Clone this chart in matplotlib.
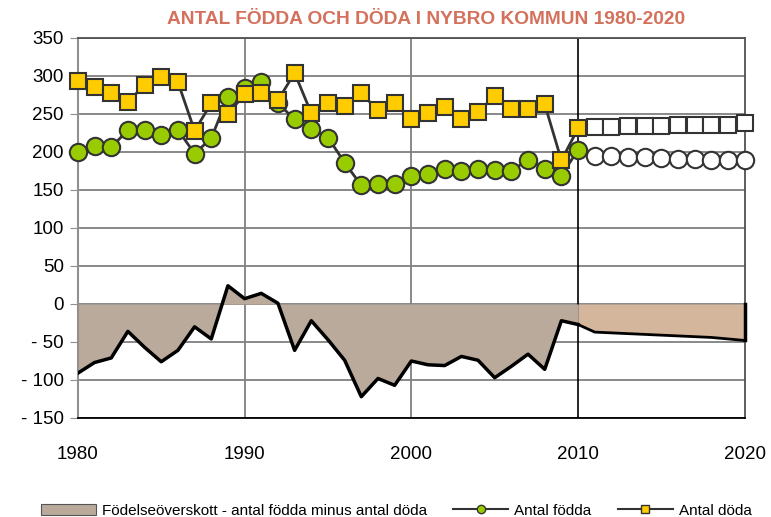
import matplotlib
matplotlib.use('Agg')
import matplotlib.pyplot as plt
from matplotlib.patches import Patch
from matplotlib.lines import Line2D

# utfall 1980-2010
years = list(range(1980, 2011))
fodda = [200, 208, 206, 229, 229, 223, 229, 198, 218, 273,
         284, 292, 264, 243, 230, 219, 186, 156, 158, 158,
         168, 171, 178, 175, 178, 176, 175, 190, 178, 169,
         203]
doda = [293, 285, 277, 266, 288, 299, 292, 228, 264, 250,
        276, 278, 268, 304, 251, 265, 261, 277, 255, 265,
        243, 251, 259, 244, 252, 274, 256, 256, 263, 189,
        231]
overskott = [-91, -77, -71, -36, -57, -76, -61, -30, -46, 24,
             7, 14, 1, -61, -22, -47, -74, -122, -98, -107,
             -75, -80, -81, -69, -74, -97, -82, -66, -86, -22,
             -27]

# prognos 2011-2020
prog_years = list(range(2011, 2021))
prog_fodda = [195, 195, 194, 193, 192, 191, 191, 190, 189, 189]
prog_doda = [233, 233, 234, 234, 234, 235, 235, 235, 236, 238]
prog_ar_area = list(range(2010, 2021))
prog_overskott = [-27, -37, -38, -39, -40, -41, -42, -43, -44, -46, -48]

yticks = [350, 300, 250, 200, 150, 100, 50, 0, -50, -100, -150]
yticklabels = ['350', '300', '250', '200', '150', '100', '50', '0', '- 50', '- 100', '- 150']
xticks = [1980, 1990, 2000, 2010, 2020]

titel = 'ANTAL FÖDDA OCH DÖDA I NYBRO KOMMUN 1980-2020'
lbl_overskott = 'Födelseöverskott - antal födda minus antal döda'
lbl_fodda = 'Antal födda'
lbl_doda = 'Antal döda'

plt.rcParams['font.family'] = ['Liberation Sans', 'DejaVu Sans']

fig = plt.figure(figsize=(7.71, 5.17), dpi=100)
ax = fig.add_axes([0.101, 0.1915, 0.865, 0.735])

edge = '#333333'
area_col = '#B9AA9B'
prog_area_col = '#D4B69C'
green = '#99CC00'
yellow = '#FFCC00'

ax.fill_between(years, overskott, 0, color=area_col, lw=0, zorder=2)
ax.plot(years, overskott, color='black', lw=2.5, zorder=3)
ax.fill_between(prog_ar_area, prog_overskott, 0, color=prog_area_col, lw=0, zorder=2)
ax.plot(prog_ar_area, prog_overskott, color='black', lw=2, zorder=3)
ax.plot([prog_ar_area[-1], prog_ar_area[-1]], [0, prog_overskott[-1]], color='black', lw=2.5, zorder=3,
        clip_on=False)

ax.plot(years, fodda, color=edge, lw=2, marker='o', ms=12.5, mfc=green, mec=edge, mew=1.5, zorder=4,
        clip_on=False)
ax.plot(prog_years, prog_fodda, color=edge, lw=1.5, marker='o', ms=12.5, mfc='white', mec=edge, mew=1.5,
        zorder=4, clip_on=False)
ax.plot(years, doda, color=edge, lw=2, marker='s', ms=11.5, mfc=yellow, mec=edge, mew=1.5, zorder=5,
        clip_on=False)
ax.plot(prog_years, prog_doda, color=edge, lw=1.5, marker='s', ms=11.5, mfc='white', mec=edge, mew=1.5,
        zorder=5, clip_on=False)

ax.set_xlim(1980, 2020)
ax.set_ylim(-150, 350)
ax.set_yticks(yticks)
ax.set_yticklabels(yticklabels)
ax.set_xticks(xticks)
for y in yticks:
    ax.axhline(y, color='#808080', lw=1.3, zorder=1)
ax.axvline(1990, color='#808080', lw=1.3, zorder=1)
ax.axvline(2000, color='#808080', lw=1.3, zorder=1)
ax.axvline(2010, color='black', lw=1.2, zorder=1)

ax.spines['left'].set_color('#909090')
ax.spines['left'].set_linewidth(1.5)
ax.spines['top'].set_color('#505050')
ax.spines['top'].set_linewidth(1.3)
ax.spines['right'].set_color('#505050')
ax.spines['right'].set_linewidth(1.3)
ax.spines['bottom'].set_color('black')
ax.spines['bottom'].set_linewidth(1.3)

ax.tick_params(axis='y', direction='out', length=6, color='#909090', labelsize=13.5, pad=4)
ax.tick_params(axis='x', length=0, labelsize=13.5, pad=20)

fig.text(0.553, 0.962, titel, ha='center', va='center', fontsize=13.8, fontweight='bold',
         color='#D4715C')

handles = [Patch(facecolor=area_col, edgecolor='#555555', lw=0.8),
           Line2D([], [], color=edge, lw=1.5, marker='o', ms=6, mfc=green, mec=edge),
           Line2D([], [], color=edge, lw=1.5, marker='s', ms=6, mfc=yellow, mec=edge)]
leg = fig.legend(handles, [lbl_overskott, lbl_fodda, lbl_doda], loc='center', ncol=3,
                 bbox_to_anchor=(0.514, 0.012), frameon=False, handlelength=3.6, handleheight=0.8,
                 columnspacing=1.7, handletextpad=0.4, prop={'size': 11})

fig.savefig('out.png', dpi=100)
